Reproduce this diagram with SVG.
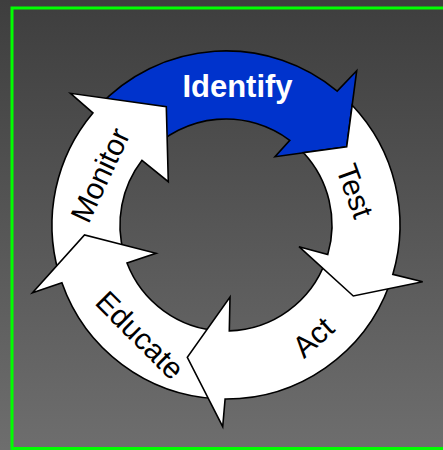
<svg xmlns="http://www.w3.org/2000/svg" width="443" height="450" viewBox="0 0 443 450">
  <defs>
    <linearGradient id="bg" x1="0" y1="0" x2="0" y2="1">
      <stop offset="0" stop-color="#3e3e3e"/>
      <stop offset="1" stop-color="#6e6e6e"/>
    </linearGradient>
  </defs>
  <style>
    .arrow { stroke: #000; stroke-width: 1.6; stroke-linejoin: miter; }
    .white { fill: #fff; }
    .blue { fill: #0033cc; }
    .label { font-family: "Liberation Sans", Arial, sans-serif; font-size: 30px; fill: #000; text-anchor: middle; }
    .title { font-family: "Liberation Sans", Arial, sans-serif; font-size: 31px; font-weight: bold; fill: #fff; text-anchor: middle; }
  </style>

  <rect x="0" y="0" width="443" height="450" fill="url(#bg)"/>
  <rect x="12" y="8" width="440" height="440.5" fill="none" stroke="#00ff00" stroke-width="3"/>

  <!-- cycle ring: five curved arrows around (226,225) -->
  <g id="identify">
    <path class="arrow blue" d="M 98.7 106.3 A 174 174 0 0 1 337.2 91.1 L 356.7 70.7 L 346.7 146.7 L 275 156.7 L 289.8 140.3 A 106 106 0 0 0 148.5 152.7 Z"/>
    <text class="title" x="237.5" y="97">Identify</text>
  </g>

  <g id="monitor">
    <path class="arrow white" d="M 58.7 273 A 174 174 0 0 1 92.9 112.9 L 70.5 93.3 L 166.3 106.7 L 168.3 181.7 L 142 160.3 A 106 106 0 0 0 124.1 254.2 Z"/>
    <text class="label" transform="translate(100 175) rotate(-65)" x="0" y="10.5">Monitor</text>
  </g>

  <g id="educate">
    <path class="arrow white" d="M 216.9 398.8 A 174 174 0 0 1 61.9 282.8 L 32.5 292.7 L 84.5 235 L 156 253.3 L 127 263 A 106 106 0 0 0 220.5 330.9 Z"/>
    <text class="label" transform="translate(140 335) rotate(45)" x="0" y="10.5">Educate</text>
  </g>

  <g id="act">
    <path class="arrow white" d="M 389.5 284.5 A 174 174 0 0 1 225.1 399 L 222.7 426.7 L 187.3 357.3 L 230 297 L 229.3 330.9 A 106 106 0 0 0 325.6 261.3 Z"/>
    <text class="label" transform="translate(313 337) rotate(-42)" x="0" y="10.5">Act</text>
  </g>

  <g id="test">
    <path class="arrow white" d="M 352.2 105.2 A 174 174 0 0 1 392.8 274.4 L 422.7 281.7 L 353.3 296 L 299 246.7 L 327.8 254.4 A 106 106 0 0 0 303.5 152.7 L 346.7 146.7 Z"/>
    <text class="label" transform="translate(355 191) rotate(70)" x="0" y="10.5">Test</text>
  </g>

  <g id="connectors"/>
</svg>
